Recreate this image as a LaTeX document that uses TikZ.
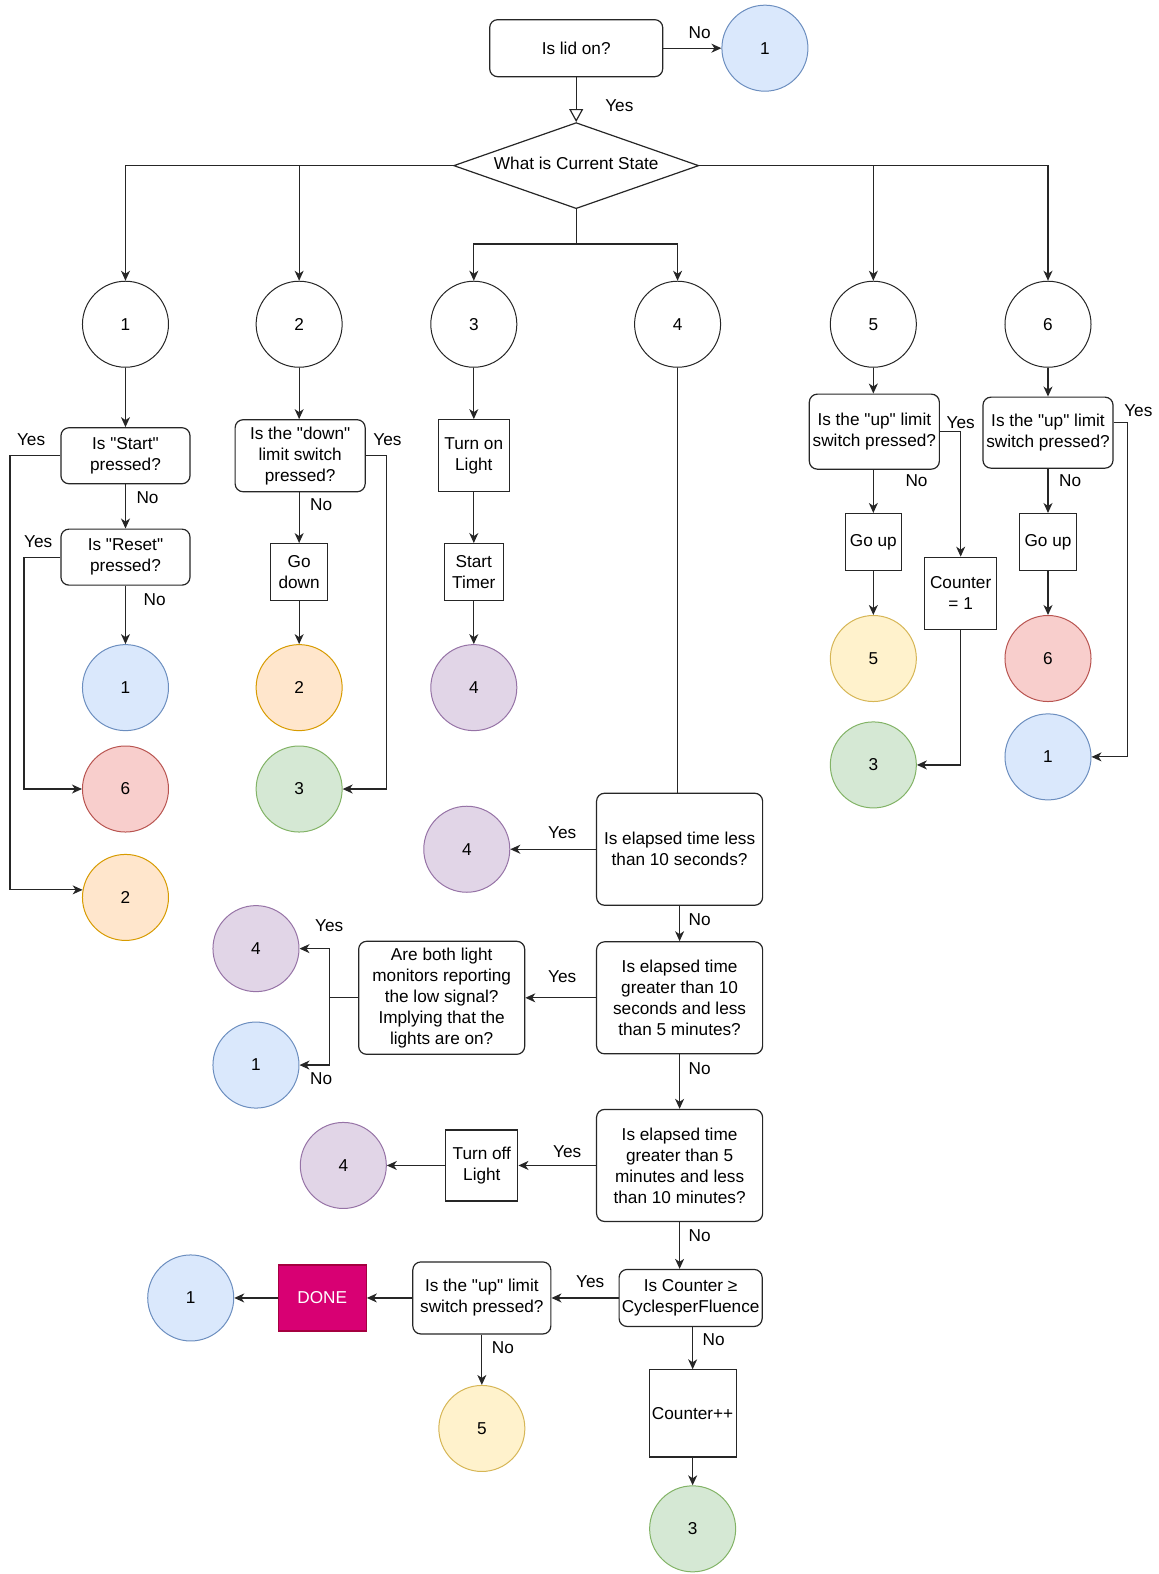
\documentclass[tikz,border=0pt]{standalone}
\usepackage{fontspec}
\setmainfont{Liberation Sans}[Ligatures=TeXOff]
\usetikzlibrary{arrows.meta,shapes.geometric}
\definecolor{bfill}{HTML}{DAE8FC}\definecolor{bline}{HTML}{6C8EBF}
\definecolor{rfill}{HTML}{F8CECC}\definecolor{rline}{HTML}{B85450}
\definecolor{ofill}{HTML}{FFE6CC}\definecolor{oline}{HTML}{D79B00}
\definecolor{gfill}{HTML}{D5E8D4}\definecolor{gline}{HTML}{82B366}
\definecolor{pfill}{HTML}{E1D5E7}\definecolor{pline}{HTML}{9673A6}
\definecolor{yfill}{HTML}{FFF2CC}\definecolor{yline}{HTML}{D6B656}
\definecolor{mfill}{HTML}{D80073}\definecolor{mline}{HTML}{A50040}
\begin{document}
\begin{tikzpicture}[x=1.0035pt,y=-1.0035pt,
  every node/.style={font=\fontsize{17.2}{21}\selectfont, text=black},
  circ/.style={circle, draw, line width=1pt, minimum size=86pt, inner sep=0pt},
  cw/.style={circ, draw=black!85, fill=white},
  cb/.style={circ, draw=bline, fill=bfill},
  cr/.style={circ, draw=rline, fill=rfill},
  co/.style={circ, draw=oline, fill=ofill},
  cg/.style={circ, draw=gline, fill=gfill},
  cp/.style={circ, draw=pline, fill=pfill},
  cy/.style={circ, draw=yline, fill=yfill},
  rbox/.style={draw=black!85, line width=1.2pt, rounded corners=8pt, align=center, inner sep=0pt, fill=white},
  sbox/.style={draw=black!85, line width=1.2pt, align=center, inner sep=0pt, fill=white},
  lbl/.style={inner sep=0pt},
  con/.style={draw=black!85, line width=1.2pt},
  arr/.style={con, -{Stealth[length=10pt,width=9pt,inset=3pt]}},
  oarr/.style={con, -{Triangle[open,length=13pt,width=14pt,fill=white]}}
]
\useasboundingbox (0,0) rectangle (1154,1568);
% top
\node[rbox, minimum width=173pt, minimum height=57pt] (lid) at (574,48) {Is lid on?};
\node[cb] (b1t) at (762,48) {1};
\node[diamond, draw=black!85, line width=1.2pt, minimum width=245pt, minimum height=86pt, inner sep=0pt, aspect=2.85] (cs) at (574,165) {\raisebox{4pt}{What is Current State}};
\node[lbl] (lnolid) at (697,33) {No};
\node[lbl] (lyeslid) at (617,105) {Yes};
\draw[arr] (lid.east) -- (b1t.west);
\draw[oarr] (lid.south) -- (cs.north);
% state circles
\node[cw] (c1) at (125,323) {1};
\node[cw] (c2) at (298,323) {2};
\node[cw] (c3) at (472,323) {3};
\node[cw] (c4) at (675,323) {4};
\node[cw] (c5) at (870,323) {5};
\node[cw] (c6) at (1044,323) {6};
\draw[arr] (cs.west) -| (c1.north);
\draw[arr] (cs.west) -| (c2.north);
\draw[arr] (cs.east) -| (c5.north);
\draw[arr] (cs.east) -| (c6.north);
\coordinate (mid) at (574,243);
\draw[arr] (cs.south) -- (mid) -| (c3.north);
\draw[arr] (mid) -| (c4.north);
% column 1
\node[rbox, minimum width=129pt, minimum height=56pt] (start) at (125,454) {Is "Start"\\pressed?};
\node[rbox, minimum width=129pt, minimum height=56pt] (reset) at (125,555) {Is "Reset"\\pressed?};
\node[cb] (b1a) at (125,685) {1};
\node[cr] (r6a) at (125,786) {6};
\node[co] (o2a) at (125,894) {2};
\draw[arr] (c1.south) -- (start.north);
\draw[arr] (start.south) -- (reset.north);
\draw[arr] (reset.south) -- (b1a.north);
\coordinate (sy) at (10,454);
\coordinate (ry) at (24,555);
\draw[arr] (start.west) -- (sy) |- (o2a.170);
\draw[arr] (reset.west) -- (ry) |- (r6a.west);
\node[lbl] (ly1) at (31,438) {Yes};
\node[lbl] (ln1) at (147,496) {No};
\node[lbl] (ly2) at (38,540) {Yes};
\node[lbl] (ln2) at (154,597) {No};
% column 2
\node[rbox, minimum width=130pt, minimum height=72pt] (down) at (299,454) {Is the "down"\\limit switch\\pressed?};
\node[sbox, minimum width=57pt, minimum height=57pt] (godown) at (298,570) {Go\\down};
\node[co] (o2b) at (298,685) {2};
\node[cg] (g3a) at (298,786) {3};
\draw[arr] (c2.south) -- (c2.south |- down.north);
\draw[arr] (down.south -| godown.north) -- (godown.north);
\draw[arr] (godown.south) -- (o2b.north);
\coordinate (dy) at (385,454);
\draw[arr] (down.east) -- (dy) |- (g3a.east);
\node[lbl] (ly3) at (386,438) {Yes};
\node[lbl] (ln3) at (320,503) {No};
% column 3
\node[sbox, minimum width=71pt, minimum height=72pt] (turnon) at (472,454) {Turn on\\Light};
\node[sbox, minimum width=59pt, minimum height=57pt] (timer) at (472,570) {Start\\Timer};
\node[cp] (p4a) at (472,685) {4};
\draw[arr] (c3.south) -- (turnon.north);
\draw[arr] (turnon.south) -- (timer.north);
\draw[arr] (timer.south) -- (p4a.north);
% column 4
\node[rbox, minimum width=166pt, minimum height=112pt] (el1) at (677,846) {Is elapsed time less\\than 10 seconds?};
\node[cp] (p4b) at (465,846) {4};
\node[rbox, minimum width=166pt, minimum height=112pt] (el2) at (677,994) {Is elapsed time\\greater than 10\\seconds and less\\than 5 minutes?};
\node[rbox, minimum width=166pt, minimum height=113pt] (both) at (440,994) {Are both light\\monitors reporting\\the low signal?\\Implying that the\\lights are on?};
\node[cp] (p4c) at (255,945) {4};
\node[cb] (b1b) at (255,1061) {1};
\node[rbox, minimum width=166pt, minimum height=112pt] (el3) at (677,1161) {Is elapsed time\\greater than 5\\minutes and less\\than 10 minutes?};
\node[sbox, minimum width=72pt, minimum height=71pt] (turnoff) at (480,1161) {Turn off\\Light};
\node[cp] (p4d) at (342,1161) {4};
\node[rbox, minimum width=143pt, minimum height=57pt] (cnt) at (688,1293) {Is Counter ≥\\CyclesperFluence};
\node[rbox, minimum width=138pt, minimum height=72pt] (up3) at (480,1293) {Is the "up" limit\\switch pressed?};
\node[sbox, draw=mline, fill=mfill, text=white, minimum width=88pt, minimum height=66pt] (done) at (321,1293) {DONE};
\node[cb] (b1c) at (190,1293) {1};
\node[cy] (y5b) at (480,1423) {5};
\node[sbox, minimum width=87pt, minimum height=87pt] (cpp) at (690,1408) {Counter++};
\node[cg] (g3c) at (690,1523) {3};
\draw[con] (c4.south) -- (c4.south |- el1.north);
\draw[arr] (el1.west) -- (p4b.east);
\draw[arr] (el1.south) -- (el2.north);
\draw[arr] (el2.west) -- (both.east);
\coordinate (bf) at (328,994);
\draw[con] (both.west) -- (bf);
\draw[arr] (bf) |- (p4c.east);
\draw[arr] (bf) |- (b1b.east);
\draw[arr] (el2.south) -- (el3.north);
\draw[arr] (el3.west) -- (turnoff.east);
\draw[arr] (turnoff.west) -- (p4d.east);
\draw[arr] (el3.south) -- (el3.south |- cnt.north);
\draw[arr] (cnt.west) -- (up3.east);
\draw[arr] (up3.west) -- (done.east);
\draw[arr] (done.west) -- (b1c.east);
\draw[arr] (up3.south) -- (y5b.north);
\draw[arr] (cnt.south -| cpp.north) -- (cpp.north);
\draw[arr] (cpp.south) -- (g3c.north);
\node[lbl] (ly4) at (560,829) {Yes};
\node[lbl] (ln4) at (697,916) {No};
\node[lbl] (ly5) at (560,973) {Yes};
\node[lbl] (ln5) at (697,1065) {No};
\node[lbl] (ly6) at (328,922) {Yes};
\node[lbl] (ln6) at (320,1075) {No};
\node[lbl] (ly7) at (565,1147) {Yes};
\node[lbl] (ln7) at (697,1231) {No};
\node[lbl] (ly8) at (588,1277) {Yes};
\node[lbl] (ln8) at (501,1343) {No};
\node[lbl] (ln9) at (711,1335) {No};
% column 5
\node[rbox, minimum width=130pt, minimum height=75pt] (up1) at (871,430) {Is the "up" limit\\switch pressed?};
\node[sbox, minimum width=56pt, minimum height=57pt] (goup1) at (870,540) {Go up};
\node[cy] (y5a) at (870,656) {5};
\node[sbox, minimum width=72pt, minimum height=72pt] (cset) at (957,591) {Counter\\= 1};
\node[cg] (g3b) at (870,762) {3};
\draw[arr] (c5.south) -- (c5.south |- up1.north);
\draw[arr] (up1.south -| goup1.north) -- (goup1.north);
\draw[arr] (goup1.south) -- (y5a.north);
\draw[arr] (up1.east) -| (cset.north);
\coordinate (cb3) at (957,762);
\draw[arr] (cset.south) -- (cb3) -- (g3b.east);
\node[lbl] (ly9) at (957,421) {Yes};
\node[lbl] (ln10) at (913,479) {No};
% column 6
\node[rbox, minimum width=130pt, minimum height=71pt] (up2) at (1044,431) {Is the "up" limit\\switch pressed?};
\node[sbox, minimum width=57pt, minimum height=57pt] (goup2) at (1044,540) {Go up};
\node[cr] (r6b) at (1044,656) {6};
\node[cb] (b1d) at (1044,754) {1};
\draw[arr] (c6.south) -- (up2.north);
\draw[arr] (up2.south) -- (goup2.north);
\draw[arr] (goup2.south) -- (r6b.north);
\coordinate (u2y) at (1123,421);
\draw[arr] (up2.east |- u2y) -- (u2y) |- (b1d.east);
\node[lbl] (ly10) at (1134,409) {Yes};
\node[lbl] (ln11) at (1066,479) {No};
\end{tikzpicture}
\end{document}
